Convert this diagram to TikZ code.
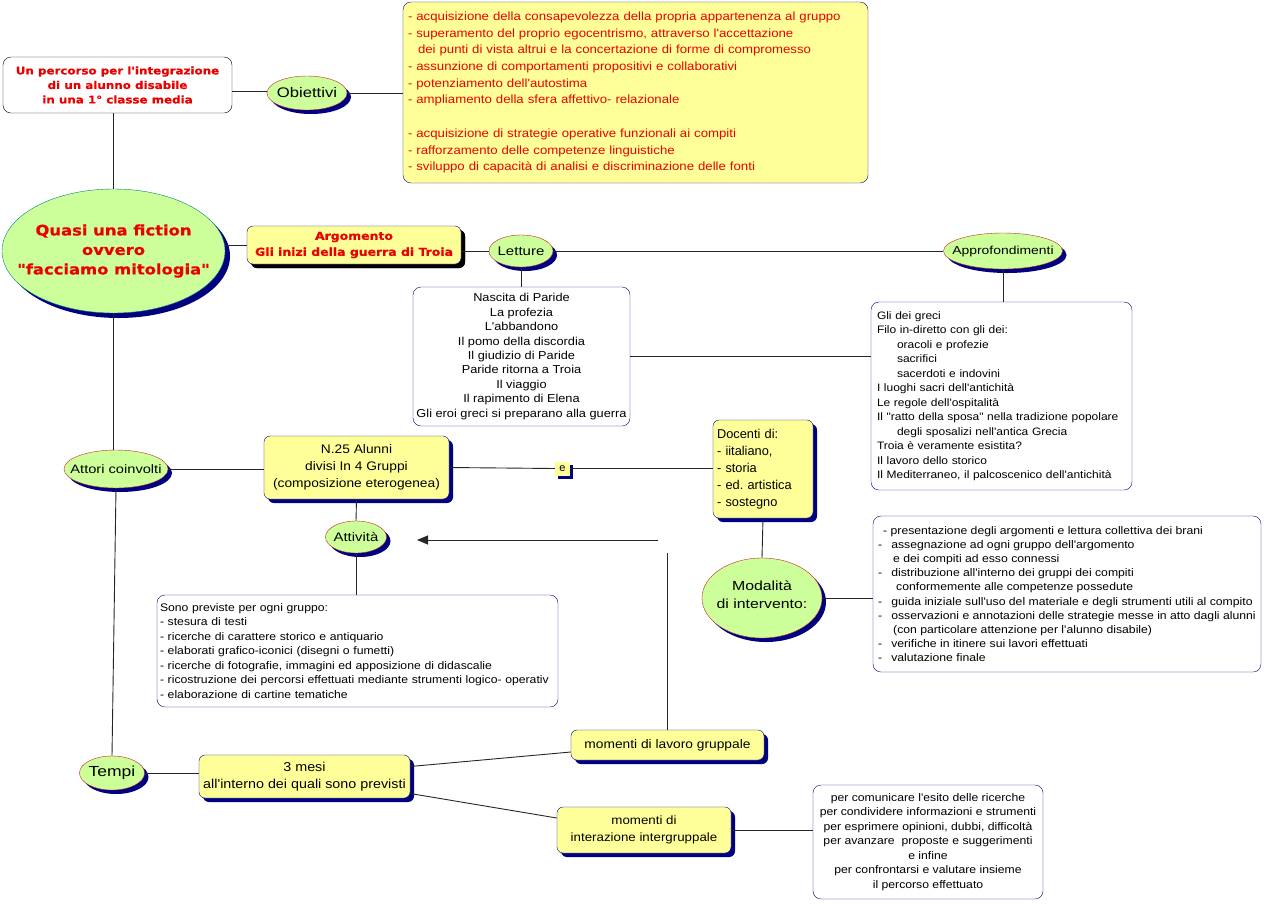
\documentclass[tikz,border=0pt]{standalone}
\usepackage{fontspec}
\setmainfont{Liberation Sans}
\newfontfamily\heavy{DejaVu Sans}[FakeStretch=1.13,FakeBold=0.6]
\newfontfamily\wide{Liberation Sans}[FakeStretch=1.11]
\newfontfamily\ellf{Liberation Sans}[FakeStretch=1.2]
\usetikzlibrary{shapes.geometric,shadows,arrows.meta}
\definecolor{lgreen}{RGB}{204,255,153}
\definecolor{lyellow}{RGB}{255,255,153}
\definecolor{navy}{RGB}{0,0,128}
\definecolor{txtred}{RGB}{235,0,0}
\definecolor{ellborder}{RGB}{200,40,40}
\newcommand\setfs[2]{\fontsize{#1}{#2}\selectfont}
\frenchspacing
\begin{document}
\begin{tikzpicture}[x=1pt,y=-1pt,
  shad/.style={drop shadow={shadow xshift=4pt,shadow yshift=-4pt,fill=navy,opacity=1}},
  ell/.style={ellipse,draw=ellborder,fill=lgreen,inner sep=0pt,shad},
  lbl/.style={inner sep=0pt,align=center},
  ybox/.style={rectangle,rounded corners=6pt,draw=navy,fill=lyellow,inner sep=0pt,shad,align=center},
  wbox/.style={rectangle,rounded corners=8pt,draw=navy,fill=white,inner sep=0pt},
  conn/.style={draw=black!85,line width=0.9pt}]
\useasboundingbox (0,0) rectangle (1264,903);

% title box
\node[rectangle,rounded corners=8pt,draw=black,fill=white,minimum width=229pt,minimum height=56pt,align=center,
  font=\heavy\bfseries\setfs{10.5}{14.5},text=txtred] (title) at (117.5,85)
  {Un percorso per l'integrazione\\di un alunno disabile\\in una 1° classe media};

% main ellipse
\node[ellipse,draw=teal,fill=lgreen,inner sep=0pt,minimum width=223pt,minimum height=124pt,
  drop shadow={shadow xshift=5pt,shadow yshift=-5pt,fill=navy,opacity=1}] (main) at (113.5,251) {};
\node[lbl,font=\heavy\bfseries\setfs{14.5}{19.5},text=txtred] (maint) at (main.center)
  {Quasi una fiction\\ovvero\\"facciamo mitologia"};

% Obiettivi
\node[ell,minimum width=80pt,minimum height=34pt] (obj) at (307,93) {};
\node[lbl,font=\ellf\setfs{13.9}{16}] (objt) at (obj.center) {Obiettivi};
\node[rectangle,rounded corners=8pt,draw=navy,fill=lyellow,inner sep=0pt,minimum width=465pt,minimum height=181pt,
  text width=455pt,align=left,font=\wide\setfs{11.9}{16.7},text=txtred] (objbox) at (635.5,92.5)
  {- acquisizione della consapevolezza della propria appartenenza al gruppo\\
   - superamento del proprio egocentrismo, attraverso l'accettazione\\
   \hspace*{10pt}dei punti di vista altrui e la concertazione di forme di compromesso\\
   - assunzione di comportamenti propositivi e collaborativi\\
   - potenziamento dell'autostima\\
   - ampliamento della sfera affettivo- relazionale\\[16.7pt]
   - acquisizione di strategie operative funzionali ai compiti\\
   - rafforzamento delle competenze linguistiche\\
   - sviluppo di capacità di analisi e discriminazione delle fonti};

% Argomento
\node[ybox,drop shadow={shadow xshift=4pt,shadow yshift=-4pt,fill=black,opacity=1},
  minimum width=214pt,minimum height=38pt,font=\heavy\bfseries\setfs{11}{16},text=txtred] (arg) at (354,245)
  {Argomento\\Gli inizi della guerra di Troia};

% Letture
\node[ell,minimum width=64pt,minimum height=32pt] (let) at (521,251) {};
\node[lbl,font=\ellf\setfs{12.5}{15}] (lett) at (let.center) {Letture};
\node[wbox,minimum width=217pt,minimum height=139pt,align=center,font=\wide\setfs{11.5}{14.4}] (letbox) at (521.5,356.5)
  {Nascita di Paride\\La profezia\\L'abbandono\\Il pomo della discordia\\Il giudizio di Paride\\
   Paride ritorna a Troia\\Il viaggio\\Il rapimento di Elena\\Gli eroi greci si preparano alla guerra};

% Approfondimenti
\node[ell,minimum width=119pt,minimum height=36pt] (app) at (1003,251) {};
\node[lbl,font=\ellf\setfs{11.6}{15}] (appt) at (app.center) {Approfondimenti};
\node[wbox,minimum width=261pt,minimum height=188pt,text width=249pt,align=left,font=\wide\setfs{10.8}{14.5}] (appbox) at (1001.5,396)
  {Gli dei greci\\Filo in-diretto con gli dei:\\
   \hspace*{20pt}oracoli e profezie\\\hspace*{20pt}sacrifici\\\hspace*{20pt}sacerdoti e indovini\\
   I luoghi sacri dell'antichità\\Le regole dell'ospitalità\\
   Il "ratto della sposa" nella tradizione popolare\\
   \hspace*{20pt}degli sposalizi nell'antica Grecia\\
   Troia è veramente esistita?\\Il lavoro dello storico\\Il Mediterraneo, il palcoscenico dell'antichità};

% Attori coinvolti
\node[ell,minimum width=104pt,minimum height=38pt] (att) at (116,469) {};
\node[lbl,font=\ellf\setfs{12.2}{15}] (attt) at (att.center) {Attori coinvolti};
\node[ybox,minimum width=185pt,minimum height=63pt,font=\wide\setfs{12.4}{17}] (n25) at (356.5,467.5)
  {N.25 Alunni\\divisi In 4 Gruppi\\(composizione eterogenea)};
\node[rectangle,fill=lyellow,inner sep=0pt,minimum width=15pt,minimum height=14pt,
  drop shadow={shadow xshift=3pt,shadow yshift=-3pt,fill=navy,opacity=1},font=\setfs{11}{13}] (e) at (562.5,468.5) {e};
\node[ybox,minimum width=100pt,minimum height=98pt,text width=92pt,align=left,font=\setfs{12.8}{17}] (doc) at (763,469)
  {Docenti di:\\- iitaliano,\\- storia\\- ed. artistica\\- sostegno};

% Modalita
\node[ell,minimum width=120pt,minimum height=80pt] (mod) at (762,598) {};
\node[lbl,font=\ellf\setfs{13.2}{18}] (modt) at ([yshift=3pt]mod.center) {Modalità\\di intervento:};
\node[wbox,minimum width=388pt,minimum height=156pt] (modbox) at (1067,594) {};
\node[inner sep=0pt,anchor=west,align=left,font=\wide\setfs{11}{14.2}] (modtxt) at (878,594)
  {\hspace*{5pt}- presentazione degli argomenti e lettura collettiva dei brani\\
   -\hspace*{9pt}assegnazione ad ogni gruppo dell'argomento\\
   \hspace*{15pt}e dei compiti ad esso connessi\\
   -\hspace*{9pt}distribuzione all'interno dei gruppi dei compiti\\
   \hspace*{18pt}conformemente alle competenze possedute\\
   -\hspace*{9pt}guida iniziale sull'uso del materiale e degli strumenti utili al compito\\
   -\hspace*{9pt}osservazioni e annotazioni delle strategie messe in atto dagli alunni\\
   \hspace*{15pt}(con particolare attenzione per l'alunno disabile)\\
   -\hspace*{9pt}verifiche in itinere sui lavori effettuati\\
   -\hspace*{9pt}valutazione finale};

% Attivita
\node[ell,minimum width=61pt,minimum height=32pt] (act) at (356,537) {};
\node[lbl,font=\ellf\setfs{12.4}{15}] (actt) at (act.center) {Attività};
\node[wbox,minimum width=401pt,minimum height=112pt,text width=395pt,align=left,font=\wide\setfs{11}{14.5}] (actbox) at (357.5,651)
  {Sono previste per ogni gruppo:\\
   - stesura di testi\\
   - ricerche di carattere storico e antiquario\\
   - elaborati grafico-iconici (disegni o fumetti)\\
   - ricerche di fotografie, immagini ed apposizione di didascalie\\
   - ricostruzione dei percorsi effettuati mediante strumenti logico- operativ\\
   - elaborazione di cartine tematiche};

% Tempi
\node[ell,minimum width=65pt,minimum height=34pt] (tempi) at (112,773) {};
\node[lbl,font=\ellf\setfs{14.6}{16}] (tempit) at (tempi.center) {Tempi};
\node[ybox,minimum width=211pt,minimum height=43pt,font=\wide\setfs{12.9}{17}] (mesi) at (304.5,776.5)
  {3 mesi\\all'interno dei quali sono previsti};
\node[ybox,minimum width=193pt,minimum height=30pt,font=\wide\setfs{12.4}{16}] (lav) at (667.5,745)
  {momenti di lavoro gruppale};
\node[ybox,minimum width=174pt,minimum height=46pt,font=\wide\setfs{12}{17}] (int) at (644,830)
  {momenti di\\interazione intergruppale};
\node[wbox,minimum width=230pt,minimum height=114pt,align=center,font=\wide\setfs{11}{14.5}] (comm) at (928,842)
  {per comunicare l'esito delle ricerche\\per condividere informazioni e strumenti\\
   per esprimere opinioni, dubbi, difficoltà\\per avanzare\ \ proposte e suggerimenti\\
   e infine\\per confrontarsi e valutare insieme\\il percorso effettuato};

\coordinate (vtop) at (667.5,553);
\coordinate (hstart) at (658,540);
\coordinate (htip) at (417,540);

% connectors
\draw[conn] (title.east |- 0,91) -- (obj.west |- 0,91);
\draw[conn] (obj.east) -- (objbox.west |- obj.east);
\draw[conn] (main.north |- title.south) -- (main.north);
\draw[conn] (arg.west -| main.east) -- (arg.west);
\draw[conn] (arg.east |- let.west) -- (let.west);
\draw[conn] (let.east) -- (app.west);
\draw[conn] (let.south) -- (let.south |- letbox.north);
\draw[conn] (letbox.east) -- (appbox.west |- letbox.east);
\draw[conn] (app.south) -- (app.south |- appbox.north);
\draw[conn] (main.south) -- (main.south |- att.north);
\draw[conn] (att.east) -- (att.east -| n25.west);
\draw[conn] (n25.east) -- (e.west);
\draw[conn] (e.east) -- (e.east -| doc.west);
\draw[conn] (doc.south) -- (mod.north);
\draw[conn] (mod.east) -- (modbox.west |- mod.east);
\draw[conn] (n25.south) -- (act.north);
\draw[conn] (act.south) -- (act.south |- actbox.north);
\draw[conn] (att.south) -- (tempi.north);
\draw[conn] (tempi.east) -- (mesi.west |- tempi.east);
\draw[conn] ([yshift=10pt]mesi.east) -- ([yshift=-7pt]lav.west);
\draw[conn] ([yshift=-17pt]mesi.east) -- ([yshift=12pt]int.west);
\draw[conn] (int.east) -- (comm.west |- int.east);
\draw[conn] (lav.north) -- (vtop);
\draw[conn,-{Triangle[length=11pt,width=9pt]}] (hstart) -- (htip);
\end{tikzpicture}
\end{document}
